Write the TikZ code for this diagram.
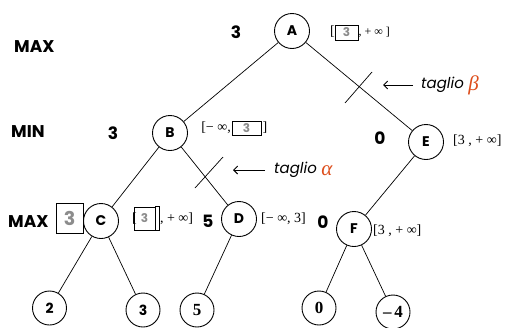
\documentclass[tikz,border=0pt]{standalone}
\usepackage{fontspec}
\setmainfont{Liberation Serif}
\newfontfamily\geo{Poppins}
\usetikzlibrary{arrows.meta}
\definecolor{cutred}{HTML}{DD4E1C}
\definecolor{valgray}{HTML}{8C8C8C}
\tikzset{
  st/.style={circle,draw,line width=0.9pt,minimum size=35pt,inner sep=0pt,
             font=\geo\bfseries\fontsize{14}{14}\selectfont},
  leafs/.style={st,minimum size=34pt,font=\geo\bfseries\fontsize{14}{14}\selectfont},
  leafr/.style={st,minimum size=34pt,font=\bfseries\fontsize{17}{17}\selectfont},
  lvl/.style={font=\geo\bfseries\fontsize{17}{17}\selectfont,inner sep=0pt},
  val/.style={font=\geo\bfseries\fontsize{17}{17}\selectfont,inner sep=0pt},
  bnd/.style={font=\fontsize{14}{14}\selectfont,inner sep=0pt},
  gbox/.style={draw,line width=0.6pt,inner sep=0pt,text=valgray,
               font=\geo\bfseries\fontsize{12}{12}\selectfont},
  edge/.style={line width=0.7pt},
  cut/.style={line width=0.7pt},
  ptr/.style={line width=0.9pt,-{Straight Barb[length=4pt,width=8pt]}},
  cutlbl/.style={font=\geo\itshape\fontsize{15}{15}\selectfont,inner sep=0pt,anchor=west},
  greek/.style={text=cutred,font=\rmfamily\itshape\fontsize{21}{21}\selectfont,inner sep=0pt,anchor=west}
}
\begin{document}
\begin{tikzpicture}[x=1pt,y=-1pt]
\useasboundingbox (0,0) rectangle (510,327);

% level names
\node[lvl,anchor=west] (maxa) at (14,47) {MAX};
\node[lvl,anchor=west] (mina) at (11,132) {MIN};
\node[lvl,anchor=west] (maxb) at (8,222) {MAX};

% inner nodes
\node[st] (A) at (292,31) {A};
\node[st] (B) at (170,133) {B};
\node[st] (C) at (101,221) {C};
\node[st] (D) at (239,219) {D};
\node[st] (E) at (426,142) {E};
\node[st] (F) at (354,229) {F};

% leaves
\node[leafs] (L2) at (49.5,308) {2};
\node[leafs] (L3) at (143,310) {3};
\node[leafr] (L5) at (197,310) {5};
\node[leafr] (L0) at (319,308) {0};
\node[leafr] (L4) at (393,312) {–\,4};

% tree edges
\draw[edge] (A) -- (B);
\draw[edge] (A) -- (E);
\draw[edge] (B) -- (C);
\draw[edge] (B) -- (D);
\draw[edge] (C) -- (L2);
\draw[edge] (C) -- (L3);
\draw[edge] (D) -- (L5);
\draw[edge] (E) -- (F);
\draw[edge] (F) -- (L0);
\draw[edge] (F) -- (L4);

% backed-up values
\node[val] (vA) at (236,32) {3};
\node[val] (vB) at (113,133) {3};
\node[val] (vD) at (208,221) {5};
\node[val] (vE) at (380,138) {0};
\node[val] (vF) at (323,222) {0};
\node[gbox,minimum width=27pt,minimum height=30pt,
      font=\geo\bfseries\fontsize{19}{19}\selectfont] (vC) at (69.5,218) {3};

% alpha-beta windows
\node[bnd,anchor=east] (wAo) at (335,32) {[};
\node[gbox,minimum width=23pt,minimum height=15pt] (wAg) at (346.5,32.5) {3};
\node[bnd,anchor=west,font=\fontsize{12}{12}\selectfont] (wAc) at (wAg.east) {, + ∞ ]};

\node[bnd,anchor=east] (wBo) at (231,128) {[− ∞,};
\node[gbox,minimum width=29pt,minimum height=14pt] (wBg) at (246.5,128) {3};
\node[bnd,anchor=west] (wBc) at ([xshift=1pt]wBg.east) {]};

\node[bnd,anchor=east] (wCo) at (137,219) {[};
\node[gbox,minimum width=21pt,minimum height=23pt] (wCg) at (144.5,218.5) {3};
\draw[line width=0.6pt] (wCg.north east) -- ++(3.5,0) coordinate (wCt)
      -- ([xshift=3.5pt]wCg.south east) -- (wCg.south east);
\node[bnd,anchor=west] (wCc) at ([xshift=4.5pt]wCg.east) {, + ∞]};

\node[bnd,anchor=west] (wD) at (261,219) {[− ∞, 3]};
\node[bnd,anchor=west] (wE) at (453,141) {[3 , + ∞]};
\node[bnd,anchor=west] (wF) at (373,231) {[3 , + ∞]};

% cut marks
\coordinate (kb1) at (345,103);
\coordinate (kb2) at (372,72);
\draw[cut] (kb1) -- (kb2);
\coordinate (ka1) at (195,188);
\coordinate (ka2) at (223,157);
\draw[cut] (ka1) -- (ka2);

\coordinate (pb1) at (413,85);
\coordinate (pb2) at (383,85);
\draw[ptr] (pb1) -- (pb2);
\node[cutlbl] (tb) at (421,85) {taglio};
\node[greek] (tbg) at ([xshift=4pt]tb.east) {β};

\coordinate (pa1) at (265,170);
\coordinate (pa2) at (233,170);
\draw[ptr] (pa1) -- (pa2);
\node[cutlbl] (ta) at (274,170) {taglio};
\node[greek] (tag) at ([xshift=4pt,yshift=-1pt]ta.east) {α};
\end{tikzpicture}
\end{document}
